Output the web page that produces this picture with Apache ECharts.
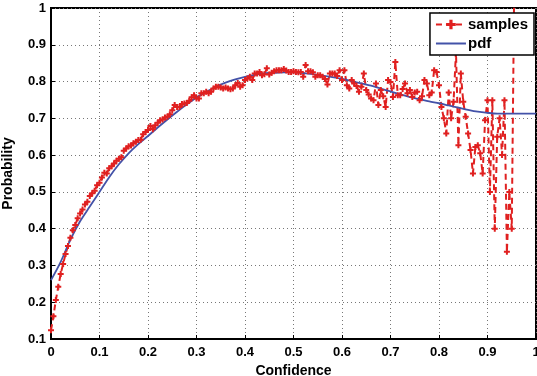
<!DOCTYPE html>
<html><head><meta charset="utf-8">
<script src="https://cdn.jsdelivr.net/npm/echarts@6/dist/echarts.min.js"></script>
<style>html,body{margin:0;padding:0;background:#fff}#c{width:537px;height:376px}</style>
</head><body><div id="c"></div>
<script>
const sampleX = [0.000,0.005,0.010,0.015,0.020,0.025,0.030,0.035,0.040,0.045,0.050,0.055,0.060,0.065,0.070,0.075,0.080,0.085,0.090,0.095,
0.100,0.105,0.110,0.115,0.120,0.125,0.130,0.135,0.140,0.145,0.150,0.155,0.160,0.165,0.170,0.175,0.180,0.185,0.190,0.195,
0.200,0.205,0.210,0.215,0.220,0.225,0.230,0.235,0.240,0.245,0.250,0.255,0.260,0.265,0.270,0.275,0.280,0.285,0.290,0.295,
0.300,0.305,0.310,0.315,0.320,0.325,0.330,0.335,0.340,0.345,0.350,0.355,0.360,0.365,0.370,0.375,0.380,0.385,0.390,0.395,
0.400,0.405,0.410,0.415,0.420,0.425,0.430,0.435,0.440,0.445,0.450,0.455,0.460,0.465,0.470,0.475,0.480,0.485,0.490,0.495,
0.500,0.505,0.510,0.515,0.520,0.525,0.530,0.535,0.540,0.545,0.550,0.555,0.560,0.565,0.570,0.575,0.580,0.585,0.590,0.595,
0.600,0.605,0.610,0.615,0.620,0.625,0.630,0.635,0.640,0.645,0.650,0.655,0.660,0.665,0.670,0.675,0.680,0.685,0.690,0.695,
0.700,0.705,0.710,0.715,0.720,0.725,0.730,0.735,0.740,0.745,0.750,0.755,0.760,0.765,0.770,0.775,0.780,0.785,0.790,0.795,
0.800,0.805,0.810,0.815,0.820,0.825,0.830,0.835,0.840,0.845,0.850,0.855,0.860,0.865,0.870,0.875,0.880,0.885,0.890,0.895,
0.900,0.905,0.910,0.915,0.920,0.925,0.930,0.935,0.940,0.945,0.950,0.955];
const sampleY = [0.124,0.162,0.206,0.242,0.277,0.304,0.331,0.353,0.375,0.396,0.410,0.428,0.441,0.452,0.466,0.473,0.489,0.496,0.503,0.518,
0.525,0.539,0.552,0.550,0.564,0.570,0.577,0.585,0.590,0.594,0.612,0.618,0.624,0.626,0.632,0.636,0.641,0.642,0.657,0.663,
0.668,0.679,0.670,0.681,0.688,0.695,0.697,0.702,0.704,0.711,0.722,0.736,0.731,0.731,0.739,0.740,0.742,0.748,0.757,0.763,
0.754,0.754,0.768,0.768,0.772,0.768,0.772,0.781,0.786,0.786,0.784,0.781,0.784,0.781,0.779,0.781,0.790,0.796,0.786,0.790,
0.804,0.808,0.813,0.804,0.822,0.822,0.826,0.817,0.820,0.836,0.819,0.824,0.828,0.831,0.831,0.831,0.834,0.830,0.826,0.826,
0.828,0.826,0.825,0.826,0.813,0.845,0.828,0.828,0.825,0.813,0.817,0.817,0.813,0.807,0.792,0.822,0.822,0.822,0.815,0.831,
0.804,0.831,0.790,0.781,0.804,0.795,0.788,0.772,0.786,0.822,0.777,0.765,0.754,0.749,0.795,0.736,0.777,0.760,0.731,0.804,
0.799,0.758,0.853,0.763,0.763,0.780,0.795,0.768,0.777,0.758,0.770,0.772,0.749,0.760,0.804,0.795,0.763,0.770,0.831,0.826,
0.790,0.731,0.700,0.659,0.770,0.700,0.745,0.880,0.627,0.822,0.745,0.704,0.659,0.614,0.550,0.622,0.627,0.605,0.550,0.695,
0.749,0.500,0.749,0.400,0.650,0.700,0.600,0.749,0.337,0.500,0.400,1.050];

const pdfX = [0,0.02,0.04,0.06,0.08,0.10,0.12,0.14,0.16,0.18,0.20,0.22,0.24,0.26,0.28,0.30,0.32,0.34,0.36,0.38,
0.40,0.42,0.44,0.46,0.48,0.50,0.52,0.54,0.56,0.58,0.60,0.62,0.64,0.66,0.68,0.70,0.72,0.74,0.76,0.78,
0.80,0.82,0.84,0.86,0.88,0.90,0.92,0.94,0.96,0.98,1.00];
const pdfY = [0.26,0.31,0.37,0.42,0.46,0.50,0.54,0.575,0.605,0.63,0.652,0.675,0.697,0.718,0.738,0.757,0.772,0.786,0.797,0.806,
0.813,0.818,0.822,0.824,0.825,0.825,0.823,0.820,0.816,0.812,0.807,0.801,0.795,0.789,0.781,0.773,0.765,0.758,0.752,0.746,
0.741,0.735,0.729,0.723,0.718,0.715,0.713,0.713,0.713,0.713,0.713];

const xTicks = ['0','0.1','0.2','0.3','0.4','0.5','0.6','0.7','0.8','0.9','1'];
const yTicks = ['0.1','0.2','0.3','0.4','0.5','0.6','0.7','0.8','0.9','1'];

const FONT = 'Liberation Sans';
const chart = echarts.init(document.getElementById('c'), null, {renderer:'canvas'});
const plus = 'path://M2,0H4V2H6V4H4V6H2V4H0V2H2Z';
chart.setOption({
  animation:false,
  backgroundColor:'#fff',
  grid:{left:51,right:1,top:8,bottom:37,containLabel:false,outerBoundsMode:'none',
        show:true,borderColor:'#000',borderWidth:2,backgroundColor:'transparent'},
  legend:{
    right:3, top:13, orient:'vertical', itemWidth:30, itemHeight:12, itemGap:4,
    padding:[4,6,4,5], backgroundColor:'#fff', borderColor:'#000', borderWidth:1.5, borderRadius:0,
    textStyle:{fontFamily:FONT, fontWeight:'bold', fontSize:15, color:'#000', padding:[0,0,0,-3]},
    data:[{name:'samples'},{name:'pdf', icon:'path://M0,0H30V2H0Z', itemStyle:{color:'#4352a8'}}]
  },
  xAxis:{
    type:'value', min:0, max:1, interval:0.1,
    name:'Confidence', nameLocation:'middle', nameGap:21,
    nameTextStyle:{fontFamily:FONT, fontWeight:'bold', fontSize:14, color:'#000'},
    axisLine:{lineStyle:{color:'#000',width:2}},
    axisTick:{inside:true,length:4,lineStyle:{color:'#000'}},
    axisLabel:{fontFamily:FONT, fontWeight:'bold', fontSize:13, color:'#000', margin:7,
      formatter:(v)=>xTicks[Math.round(v*10)]},
    splitLine:{show:true,lineStyle:{type:[1,3],color:'#777',width:1}}
  },
  yAxis:{
    type:'value', min:0.1, max:1, interval:0.1,
    name:'Probability', nameLocation:'middle', nameGap:36,
    nameTextStyle:{fontFamily:FONT, fontWeight:'bold', fontSize:14, color:'#000'},
    axisLine:{lineStyle:{color:'#000',width:2}},
    axisTick:{inside:true,length:4,lineStyle:{color:'#000'}},
    axisLabel:{fontFamily:FONT, fontWeight:'bold', fontSize:13, color:'#000', margin:5,
      formatter:(v)=>yTicks[Math.round(v*10)-1]},
    splitLine:{show:true,lineStyle:{type:[1,3],color:'#777',width:1}}
  },
  series:[
    {name:'samples', type:'line', clip:true,
     data: sampleX.map((x,i)=>[x,sampleY[i]]),
     symbol:plus, symbolSize:6, showSymbol:true,
     itemStyle:{color:'#e02020'},
     lineStyle:{color:'#e02020',width:2,type:[6,4]}},
    {name:'pdf', type:'line', clip:true, smooth:0.3,
     data: pdfX.map((x,i)=>[x,pdfY[i]]),
     symbol:'none', z:3,
     itemStyle:{color:'#4352a8'},
     lineStyle:{color:'#4352a8',width:1.8}}
  ]
});
</script></body></html>
